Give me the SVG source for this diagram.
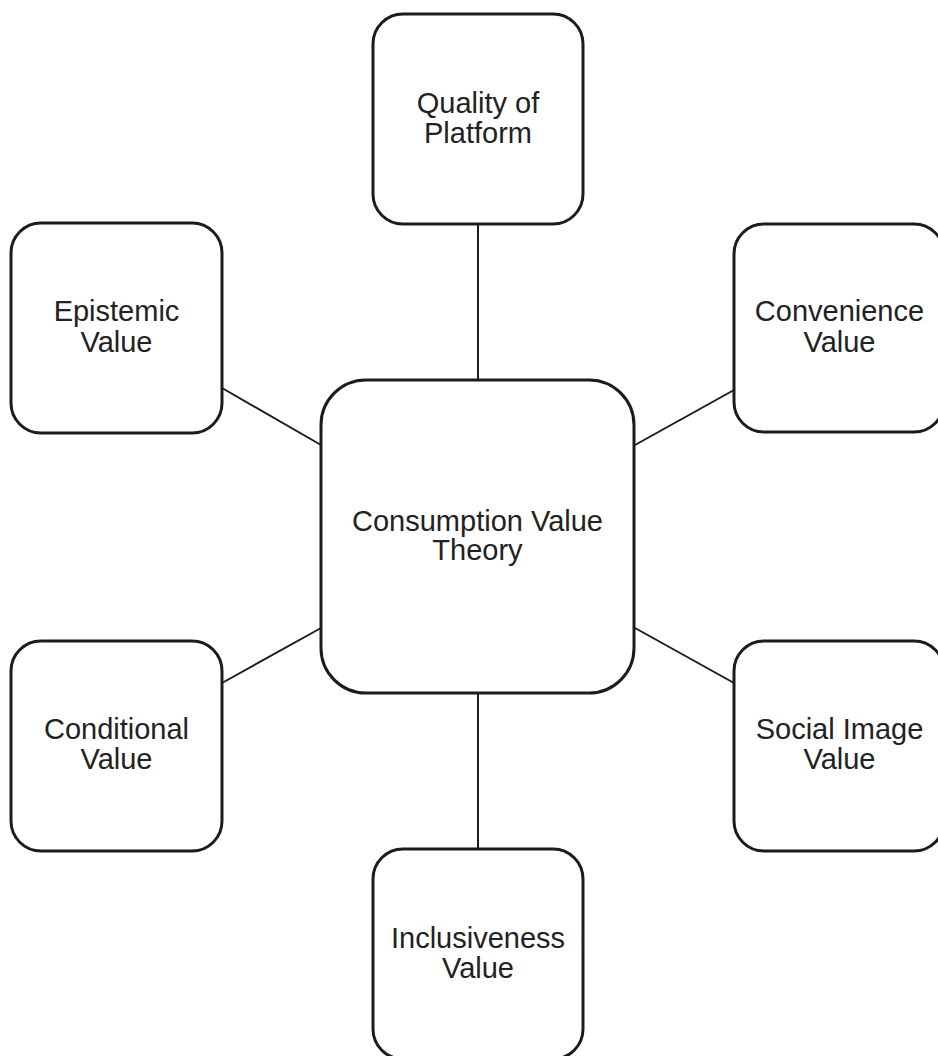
<svg xmlns="http://www.w3.org/2000/svg" width="938" height="1056" viewBox="0 0 938 1056">
  <style>
    .box { fill: #ffffff; stroke: #1c1c1c; stroke-width: 3; }
    .link { stroke: #1c1c1c; stroke-width: 2; fill: none; }
    .label { font-family: "Liberation Sans", Arial, sans-serif; font-size: 29px; fill: #222222; text-anchor: middle; }
  </style>
  <rect width="938" height="1056" fill="#ffffff"/>

  <!-- spokes from the central theory box to each value -->
  <g id="connectors">
    <line class="link" x1="478" y1="224" x2="478" y2="380"/>
    <line class="link" x1="478" y1="693" x2="478" y2="849"/>
    <line class="link" x1="222" y1="388" x2="321" y2="445"/>
    <line class="link" x1="734" y1="390" x2="635" y2="445"/>
    <line class="link" x1="222" y1="683" x2="321" y2="628"/>
    <line class="link" x1="734" y1="683" x2="635" y2="628"/>
  </g>

  <g id="node-center">
    <rect class="box" x="321" y="380" width="313" height="313" rx="45" ry="45"/>
    <text class="label" x="477.5" y="531">Consumption Value</text>
    <text class="label" x="477.5" y="560">Theory</text>
  </g>

  <g id="node-quality">
    <rect class="box" x="373" y="14" width="210" height="210" rx="30" ry="30"/>
    <text class="label" x="478" y="113">Quality of</text>
    <text class="label" x="478" y="143">Platform</text>
  </g>

  <g id="node-epistemic">
    <rect class="box" x="11" y="223" width="211" height="210" rx="30" ry="30"/>
    <text class="label" x="116.5" y="321">Epistemic</text>
    <text class="label" x="116.5" y="352">Value</text>
  </g>

  <g id="node-convenience">
    <rect class="box" x="734" y="224" width="210" height="208" rx="30" ry="30"/>
    <text class="label" x="839.5" y="321">Convenience</text>
    <text class="label" x="839.5" y="352">Value</text>
  </g>

  <g id="node-conditional">
    <rect class="box" x="11" y="641" width="211" height="210" rx="30" ry="30"/>
    <text class="label" x="116.5" y="739">Conditional</text>
    <text class="label" x="116.5" y="769">Value</text>
  </g>

  <g id="node-social">
    <rect class="box" x="734" y="641" width="210" height="210" rx="30" ry="30"/>
    <text class="label" x="839.5" y="739">Social Image</text>
    <text class="label" x="839.5" y="769">Value</text>
  </g>

  <g id="node-inclusiveness">
    <rect class="box" x="373" y="849" width="210" height="210" rx="30" ry="30"/>
    <text class="label" x="478" y="948">Inclusiveness</text>
    <text class="label" x="478" y="978">Value</text>
  </g>
</svg>
